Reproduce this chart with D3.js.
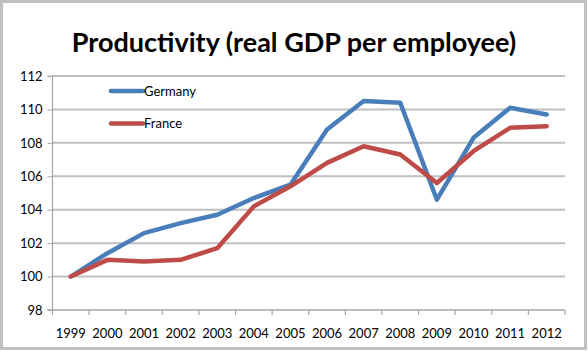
<!DOCTYPE html>
<html><head><meta charset="utf-8">
<script src="https://cdn.jsdelivr.net/npm/d3@7"></script>
<style>html,body{margin:0;padding:0;background:#fff;}svg{display:block;}</style>
</head><body>
<script>
const years = ["1999","2000","2001","2002","2003","2004","2005","2006","2007","2008","2009","2010","2011","2012"];
const germany = [100, 101.4, 102.6, 103.2, 103.7, 104.7, 105.5, 108.8, 110.5, 110.4, 104.6, 108.3, 110.1, 109.7];
const france  = [100, 101.0, 100.9, 101.0, 101.7, 104.2, 105.4, 106.8, 107.8, 107.3, 105.6, 107.5, 108.9, 109.0];
const yTicks = [98, 100, 102, 104, 106, 108, 110, 112];
const seriesNames = ["Germany", "France"];
const colors = ["#4a7ebb", "#be4b48"];

(function(){
const W = 588, H = 354;
const svg = d3.select("body").append("svg").attr("width", W).attr("height", H);

// frame
svg.append("rect").attr("x",1.5).attr("y",1.5).attr("width",584).attr("height",347)
  .attr("fill","#fff").attr("stroke","#c0c0c0").attr("stroke-width",3);

const pL = 52.5, pR = 565, pT = 76, pB = 310;
const x = d3.scaleBand().domain(years).range([pL, pR]);
const y = d3.scaleLinear().domain([98, 112]).range([pB, pT]);

// gridlines
svg.append("g").selectAll("line").data(yTicks.filter(t => t > 98)).join("line")
  .attr("x1", pL).attr("x2", pR).attr("y1", d => y(d)).attr("y2", d => y(d))
  .attr("stroke", "#bfbfbf").attr("stroke-width", 2);

// y axis
const yAxis = d3.axisLeft(y).tickValues(yTicks).tickSize(5).tickPadding(5).tickFormat(d3.format("d"));
const gy = svg.append("g").attr("transform", `translate(${pL},0)`).call(yAxis);
gy.select(".domain").attr("stroke", "#a6a6a6").attr("stroke-width", 1.2).attr("d", `M-5,${pT}H0V${pB}`);
gy.selectAll(".tick line").attr("stroke", "#a6a6a6");
gy.selectAll("text").attr("font-family", "Lato, 'Open Sans', sans-serif").attr("font-size", 13).attr("fill", "#000");

// x axis
const gx = svg.append("g").attr("transform", `translate(0,${pB})`);
gx.append("line").attr("x1", pL - 5).attr("x2", pR).attr("y1", 0).attr("y2", 0)
  .attr("stroke", "#a6a6a6").attr("stroke-width", 1.5);
const edges = years.map(d => x(d)).concat([x(years[years.length-1]) + x.bandwidth()]);
gx.selectAll("line.tk").data(edges).join("line").attr("class","tk")
  .attr("x1", d => d).attr("x2", d => d).attr("y1", 0).attr("y2", 5)
  .attr("stroke", "#a6a6a6").attr("stroke-width", 1.2);
gx.selectAll("text").data(years).join("text")
  .attr("x", d => x(d) + x.bandwidth()/2).attr("y", 28)
  .attr("text-anchor", "middle")
  .attr("font-family", "Lato, 'Open Sans', sans-serif").attr("font-size", 13).attr("fill", "#000")
  .text(d => d);

// lines
const line = d3.line().x((d, i) => x(years[i]) + x.bandwidth()/2).y(d => y(d));
[germany, france].forEach((s, k) => {
  svg.append("path").datum(s).attr("d", line).attr("fill", "none")
    .attr("stroke", colors[k]).attr("stroke-width", 4.5)
    .attr("stroke-linejoin", "round").attr("stroke-linecap", "round");
});

// legend
seriesNames.forEach((n, k) => {
  const ly = 91 + k * 32.5;
  svg.append("line").attr("x1", 111).attr("x2", 143).attr("y1", ly).attr("y2", ly)
    .attr("stroke", colors[k]).attr("stroke-width", 4.5).attr("stroke-linecap", "round");
  svg.append("text").attr("x", 144).attr("y", ly + 4.5)
    .attr("font-family", "Lato, 'Open Sans', sans-serif").attr("font-size", 13).attr("fill", "#000")
    .text(n);
});

// title
svg.append("text").attr("x", 294).attr("y", 52).attr("text-anchor", "middle")
  .attr("font-family", "Lato, 'Open Sans', sans-serif").attr("font-weight", "bold")
  .attr("font-size", 27).attr("fill", "#000")
  .text("Productivity (real GDP per employee)");
})();
</script>
</body></html>
